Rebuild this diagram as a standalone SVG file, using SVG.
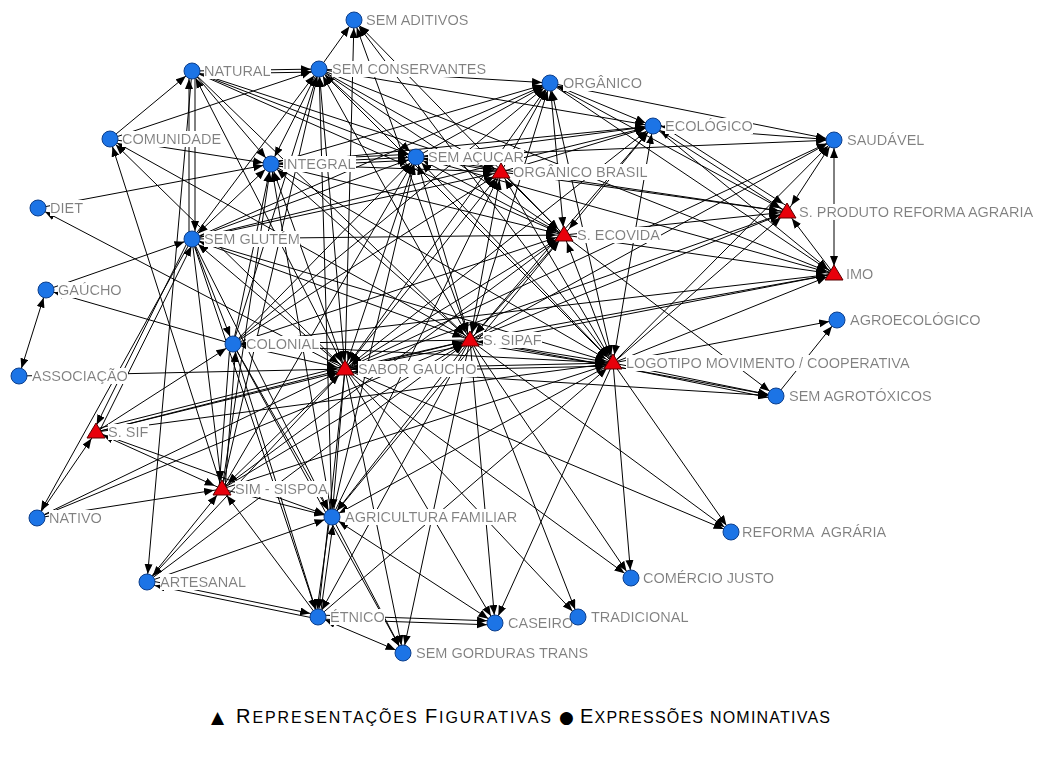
<svg xmlns="http://www.w3.org/2000/svg" xmlns:xlink="http://www.w3.org/1999/xlink" width="1051" height="757" viewBox="0 0 1051 757">
<style>
.edges line{stroke:#000;stroke-width:1;fill:none}
.e{marker-end:url(#ah)}
.b{marker-start:url(#ah);marker-end:url(#ah)}
.c{fill:#1c74e6;stroke:#0d3f8c;stroke-width:1}
.t{fill:#e8000b;stroke:#5a0000;stroke-width:1}
.lbl{font-family:"Liberation Sans",Arial,sans-serif;font-size:14.5px;fill:#808080;filter:url(#lbg);white-space:pre}
.leg{font-family:"Liberation Sans","DejaVu Sans",sans-serif;font-size:16px;fill:#000}
.cap{font-size:20px}
.sym{font-family:"DejaVu Sans",sans-serif;font-size:17px;fill:#000}
</style>
<defs>
<marker id="ah" markerUnits="userSpaceOnUse" markerWidth="20" markerHeight="10" viewBox="0 0 20 10" refX="18" refY="4" orient="auto-start-reverse">
<path d="M0,0 L10,4 L0,8 z" fill="#000"/>
</marker>
<filter id="lbg" x="0" y="0" width="1" height="1"><feFlood flood-color="#ffffff"/><feComposite in="SourceGraphic"/></filter>
<polygon id="tri" points="0,-9 9,6 -9,6" class="t"/>
</defs>
<rect width="1051" height="757" fill="#fff"/>
<g id="connectors" class="edges">
<line x1="319" y1="69" x2="354" y2="20" class="e"/>
<line x1="345" y1="369" x2="354" y2="20" class="e"/>
<line x1="470" y1="340" x2="354" y2="20" class="e"/>
<line x1="564" y1="235" x2="354" y2="20" class="e"/>
<line x1="613" y1="363" x2="354" y2="20" class="e"/>
<line x1="192" y1="71" x2="319" y2="69" class="e"/>
<line x1="192" y1="74" x2="319" y2="72" class="e"/>
<line x1="110" y1="139" x2="192" y2="71" class="e"/>
<line x1="189" y1="239" x2="189" y2="71" class="e"/>
<line x1="195" y1="71" x2="195" y2="239" class="e"/>
<line x1="192" y1="71" x2="271" y2="164" class="e"/>
<line x1="192" y1="71" x2="416" y2="157" class="e"/>
<line x1="192" y1="71" x2="501" y2="172" class="e"/>
<line x1="192" y1="71" x2="564" y2="235" class="e"/>
<line x1="192" y1="71" x2="470" y2="340" class="e"/>
<line x1="345" y1="369" x2="192" y2="71" class="b"/>
<line x1="192" y1="71" x2="147" y2="582" class="e"/>
<line x1="110" y1="139" x2="319" y2="69" class="e"/>
<line x1="110" y1="139" x2="271" y2="164" class="e"/>
<line x1="470" y1="340" x2="110" y2="139" class="e"/>
<line x1="345" y1="369" x2="110" y2="139" class="e"/>
<line x1="222" y1="489" x2="110" y2="139" class="e"/>
<line x1="319" y1="69" x2="271" y2="164" class="e"/>
<line x1="192" y1="239" x2="319" y2="69" class="e"/>
<line x1="233" y1="344" x2="319" y2="69" class="e"/>
<line x1="345" y1="369" x2="319" y2="69" class="b"/>
<line x1="470" y1="340" x2="319" y2="69" class="b"/>
<line x1="319" y1="69" x2="416" y2="157" class="e"/>
<line x1="319" y1="69" x2="501" y2="172" class="e"/>
<line x1="319" y1="69" x2="564" y2="235" class="e"/>
<line x1="613" y1="363" x2="319" y2="69" class="b"/>
<line x1="319" y1="69" x2="550" y2="83" class="e"/>
<line x1="319" y1="69" x2="653" y2="126" class="e"/>
<line x1="319" y1="69" x2="834" y2="274" class="e"/>
<line x1="222" y1="489" x2="319" y2="69" class="e"/>
<line x1="332" y1="517" x2="319" y2="69" class="e"/>
<line x1="416" y1="157" x2="550" y2="83" class="e"/>
<line x1="271" y1="164" x2="550" y2="83" class="e"/>
<line x1="501" y1="172" x2="550" y2="83" class="b"/>
<line x1="564" y1="235" x2="550" y2="83" class="b"/>
<line x1="470" y1="340" x2="550" y2="83" class="b"/>
<line x1="345" y1="369" x2="550" y2="83" class="b"/>
<line x1="613" y1="363" x2="550" y2="83" class="b"/>
<line x1="550" y1="83" x2="653" y2="126" class="b"/>
<line x1="550" y1="83" x2="787" y2="212" class="e"/>
<line x1="550" y1="83" x2="834" y2="274" class="e"/>
<line x1="192" y1="239" x2="550" y2="83" class="e"/>
<line x1="550" y1="83" x2="834" y2="140" class="e"/>
<line x1="233" y1="344" x2="550" y2="83" class="e"/>
<line x1="653" y1="126" x2="834" y2="140" class="b"/>
<line x1="653" y1="126" x2="787" y2="212" class="b"/>
<line x1="656" y1="122" x2="790" y2="208" class="e"/>
<line x1="653" y1="126" x2="834" y2="274" class="e"/>
<line x1="564" y1="235" x2="653" y2="126" class="b"/>
<line x1="470" y1="340" x2="653" y2="126" class="b"/>
<line x1="345" y1="369" x2="653" y2="126" class="b"/>
<line x1="613" y1="363" x2="653" y2="126" class="b"/>
<line x1="416" y1="157" x2="653" y2="126" class="e"/>
<line x1="271" y1="164" x2="653" y2="126" class="e"/>
<line x1="501" y1="172" x2="653" y2="126" class="e"/>
<line x1="192" y1="239" x2="653" y2="126" class="e"/>
<line x1="834" y1="140" x2="834" y2="274" class="b"/>
<line x1="834" y1="140" x2="787" y2="212" class="b"/>
<line x1="613" y1="363" x2="834" y2="140" class="e"/>
<line x1="470" y1="340" x2="834" y2="140" class="e"/>
<line x1="416" y1="157" x2="834" y2="140" class="e"/>
<line x1="345" y1="369" x2="834" y2="140" class="e"/>
<line x1="271" y1="161" x2="416" y2="154" class="e"/>
<line x1="271" y1="164" x2="416" y2="157" class="e"/>
<line x1="271" y1="167" x2="416" y2="160" class="e"/>
<line x1="38" y1="208" x2="271" y2="164" class="e"/>
<line x1="192" y1="239" x2="271" y2="164" class="b"/>
<line x1="233" y1="344" x2="271" y2="164" class="e"/>
<line x1="345" y1="369" x2="271" y2="164" class="b"/>
<line x1="470" y1="340" x2="271" y2="164" class="b"/>
<line x1="222" y1="489" x2="271" y2="164" class="e"/>
<line x1="271" y1="164" x2="501" y2="172" class="e"/>
<line x1="271" y1="164" x2="564" y2="235" class="e"/>
<line x1="271" y1="164" x2="613" y2="363" class="e"/>
<line x1="332" y1="517" x2="271" y2="164" class="e"/>
<line x1="192" y1="239" x2="416" y2="157" class="e"/>
<line x1="233" y1="344" x2="416" y2="157" class="e"/>
<line x1="345" y1="369" x2="416" y2="157" class="b"/>
<line x1="470" y1="340" x2="416" y2="157" class="b"/>
<line x1="416" y1="157" x2="501" y2="172" class="b"/>
<line x1="416" y1="157" x2="564" y2="235" class="b"/>
<line x1="613" y1="363" x2="416" y2="157" class="b"/>
<line x1="416" y1="157" x2="787" y2="212" class="e"/>
<line x1="416" y1="157" x2="834" y2="274" class="e"/>
<line x1="332" y1="517" x2="416" y2="157" class="e"/>
<line x1="222" y1="489" x2="416" y2="157" class="e"/>
<line x1="345" y1="369" x2="501" y2="172" class="b"/>
<line x1="470" y1="340" x2="501" y2="172" class="b"/>
<line x1="501" y1="172" x2="564" y2="235" class="e"/>
<line x1="613" y1="363" x2="501" y2="172" class="b"/>
<line x1="192" y1="239" x2="501" y2="172" class="e"/>
<line x1="233" y1="344" x2="501" y2="172" class="e"/>
<line x1="332" y1="517" x2="501" y2="172" class="e"/>
<line x1="501" y1="172" x2="787" y2="212" class="e"/>
<line x1="46" y1="290" x2="192" y2="239" class="e"/>
<line x1="345" y1="369" x2="192" y2="239" class="b"/>
<line x1="470" y1="340" x2="192" y2="239" class="b"/>
<line x1="192" y1="239" x2="233" y2="344" class="e"/>
<line x1="189" y1="239" x2="93" y2="432" class="e"/>
<line x1="99" y1="432" x2="195" y2="239" class="e"/>
<line x1="192" y1="239" x2="37" y2="518" class="e"/>
<line x1="192" y1="239" x2="222" y2="489" class="e"/>
<line x1="192" y1="239" x2="564" y2="235" class="e"/>
<line x1="192" y1="239" x2="613" y2="363" class="e"/>
<line x1="192" y1="239" x2="332" y2="517" class="e"/>
<line x1="192" y1="239" x2="318" y2="617" class="e"/>
<line x1="345" y1="369" x2="564" y2="235" class="b"/>
<line x1="470" y1="340" x2="564" y2="235" class="b"/>
<line x1="613" y1="363" x2="564" y2="235" class="b"/>
<line x1="564" y1="235" x2="787" y2="212" class="e"/>
<line x1="564" y1="235" x2="834" y2="274" class="e"/>
<line x1="564" y1="235" x2="776" y2="396" class="e"/>
<line x1="233" y1="344" x2="564" y2="235" class="e"/>
<line x1="332" y1="517" x2="564" y2="235" class="e"/>
<line x1="222" y1="489" x2="564" y2="235" class="e"/>
<line x1="345" y1="369" x2="787" y2="212" class="e"/>
<line x1="470" y1="340" x2="787" y2="212" class="e"/>
<line x1="613" y1="363" x2="787" y2="212" class="e"/>
<line x1="834" y1="274" x2="787" y2="212" class="e"/>
<line x1="345" y1="369" x2="834" y2="274" class="e"/>
<line x1="470" y1="340" x2="834" y2="274" class="e"/>
<line x1="613" y1="363" x2="834" y2="274" class="e"/>
<line x1="233" y1="344" x2="834" y2="274" class="e"/>
<line x1="233" y1="344" x2="46" y2="290" class="e"/>
<line x1="96" y1="432" x2="233" y2="344" class="e"/>
<line x1="345" y1="369" x2="233" y2="344" class="b"/>
<line x1="470" y1="340" x2="233" y2="344" class="e"/>
<line x1="230" y1="344" x2="219" y2="489" class="e"/>
<line x1="225" y1="489" x2="236" y2="344" class="e"/>
<line x1="233" y1="344" x2="332" y2="517" class="e"/>
<line x1="233" y1="344" x2="318" y2="617" class="e"/>
<line x1="233" y1="344" x2="403" y2="653" class="e"/>
<line x1="233" y1="344" x2="613" y2="363" class="e"/>
<line x1="470" y1="340" x2="345" y2="369" class="b"/>
<line x1="613" y1="363" x2="345" y2="369" class="b"/>
<line x1="613" y1="366" x2="345" y2="372" class="e"/>
<line x1="19" y1="376" x2="345" y2="369" class="e"/>
<line x1="96" y1="432" x2="345" y2="369" class="e"/>
<line x1="96" y1="429" x2="345" y2="366" class="e"/>
<line x1="37" y1="518" x2="345" y2="369" class="e"/>
<line x1="222" y1="489" x2="345" y2="369" class="b"/>
<line x1="345" y1="369" x2="332" y2="517" class="e"/>
<line x1="345" y1="369" x2="147" y2="582" class="e"/>
<line x1="345" y1="369" x2="318" y2="617" class="e"/>
<line x1="345" y1="369" x2="403" y2="653" class="e"/>
<line x1="345" y1="369" x2="495" y2="623" class="e"/>
<line x1="345" y1="369" x2="578" y2="617" class="e"/>
<line x1="345" y1="369" x2="631" y2="578" class="e"/>
<line x1="345" y1="369" x2="731" y2="532" class="e"/>
<line x1="345" y1="369" x2="776" y2="396" class="e"/>
<line x1="345" y1="369" x2="38" y2="208" class="e"/>
<line x1="470" y1="340" x2="613" y2="363" class="b"/>
<line x1="470" y1="343" x2="613" y2="366" class="e"/>
<line x1="96" y1="432" x2="470" y2="340" class="e"/>
<line x1="37" y1="518" x2="470" y2="340" class="e"/>
<line x1="222" y1="489" x2="470" y2="340" class="e"/>
<line x1="470" y1="340" x2="332" y2="517" class="e"/>
<line x1="470" y1="340" x2="318" y2="617" class="e"/>
<line x1="470" y1="340" x2="403" y2="653" class="e"/>
<line x1="470" y1="340" x2="495" y2="623" class="e"/>
<line x1="470" y1="340" x2="578" y2="617" class="e"/>
<line x1="470" y1="340" x2="631" y2="578" class="e"/>
<line x1="470" y1="340" x2="731" y2="532" class="e"/>
<line x1="470" y1="340" x2="776" y2="396" class="e"/>
<line x1="147" y1="582" x2="470" y2="340" class="e"/>
<line x1="613" y1="363" x2="776" y2="396" class="e"/>
<line x1="613" y1="366" x2="776" y2="399" class="e"/>
<line x1="613" y1="363" x2="837" y2="320" class="e"/>
<line x1="613" y1="363" x2="731" y2="532" class="e"/>
<line x1="613" y1="363" x2="631" y2="578" class="e"/>
<line x1="613" y1="363" x2="332" y2="517" class="e"/>
<line x1="613" y1="363" x2="495" y2="623" class="e"/>
<line x1="96" y1="432" x2="613" y2="363" class="e"/>
<line x1="222" y1="489" x2="613" y2="363" class="e"/>
<line x1="318" y1="617" x2="613" y2="363" class="e"/>
<line x1="46" y1="290" x2="19" y2="376" class="b"/>
<line x1="37" y1="518" x2="96" y2="432" class="e"/>
<line x1="37" y1="518" x2="222" y2="489" class="e"/>
<line x1="96" y1="432" x2="222" y2="489" class="b"/>
<line x1="96" y1="432" x2="332" y2="517" class="e"/>
<line x1="147" y1="582" x2="332" y2="517" class="e"/>
<line x1="147" y1="582" x2="222" y2="489" class="e"/>
<line x1="147" y1="580" x2="318" y2="615" class="e"/>
<line x1="318" y1="619" x2="147" y2="584" class="e"/>
<line x1="330" y1="517" x2="316" y2="617" class="e"/>
<line x1="320" y1="617" x2="334" y2="517" class="e"/>
<line x1="332" y1="517" x2="403" y2="653" class="e"/>
<line x1="332" y1="517" x2="495" y2="623" class="b"/>
<line x1="318" y1="615" x2="495" y2="621" class="e"/>
<line x1="318" y1="619" x2="495" y2="625" class="e"/>
<line x1="318" y1="617" x2="403" y2="653" class="b"/>
<line x1="222" y1="489" x2="332" y2="517" class="e"/>
<line x1="318" y1="617" x2="222" y2="489" class="e"/>
<line x1="776" y1="396" x2="837" y2="320" class="e"/>
</g>
<g id="n-sem-aditivos"><circle cx="354" cy="20" r="8" class="c"/><text x="366" y="25" class="lbl">SEM ADITIVOS</text></g>
<g id="n-natural"><circle cx="192" cy="71" r="8" class="c"/><text x="204" y="76" class="lbl">NATURAL</text></g>
<g id="n-sem-conservantes"><circle cx="319" cy="69" r="8" class="c"/><text x="332" y="74" class="lbl">SEM CONSERVANTES</text></g>
<g id="n-organico"><circle cx="550" cy="83" r="8" class="c"/><text x="563" y="88" class="lbl">ORGÂNICO</text></g>
<g id="n-ecologico"><circle cx="653" cy="126" r="8" class="c"/><text x="665" y="131" class="lbl">ECOLÓGICO</text></g>
<g id="n-saudavel"><circle cx="834" cy="140" r="8" class="c"/><text x="847" y="145" class="lbl">SAUDÁVEL</text></g>
<g id="n-comunidade"><circle cx="110" cy="139" r="8" class="c"/><text x="122" y="144" class="lbl">COMUNIDADE</text></g>
<g id="n-integral"><circle cx="271" cy="164" r="8" class="c"/><text x="283" y="169" class="lbl">INTEGRAL</text></g>
<g id="n-sem-acucar"><circle cx="416" cy="157" r="8" class="c"/><text x="428" y="162" class="lbl">SEM AÇUCAR</text></g>
<g id="n-organico-brasil"><use xlink:href="#tri" x="501" y="172"/><text x="513" y="177" class="lbl">ORGÂNICO BRASIL</text></g>
<g id="n-diet"><circle cx="38" cy="208" r="8" class="c"/><text x="50" y="213" class="lbl">DIET</text></g>
<g id="n-s-produto"><use xlink:href="#tri" x="787" y="212"/><text x="799" y="217" class="lbl">S. PRODUTO REFORMA AGRARIA</text></g>
<g id="n-sem-glutem"><circle cx="192" cy="239" r="8" class="c"/><text x="204" y="244" class="lbl">SEM GLUTÉM</text></g>
<g id="n-s-ecovida"><use xlink:href="#tri" x="564" y="235"/><text x="577" y="240" class="lbl">S. ECOVIDA</text></g>
<g id="n-imo"><use xlink:href="#tri" x="834" y="274"/><text x="846" y="279" class="lbl">IMO</text></g>
<g id="n-gaucho"><circle cx="46" cy="290" r="8" class="c"/><text x="58" y="295" class="lbl">GAÚCHO</text></g>
<g id="n-agroecologico"><circle cx="837" cy="320" r="8" class="c"/><text x="850" y="325" class="lbl">AGROECOLÓGICO</text></g>
<g id="n-s-sipaf"><use xlink:href="#tri" x="470" y="340"/><text x="483" y="345" class="lbl">S. SIPAF</text></g>
<g id="n-colonial"><circle cx="233" cy="344" r="8" class="c"/><text x="246" y="349" class="lbl">COLONIAL</text></g>
<g id="n-sabor-gaucho"><use xlink:href="#tri" x="345" y="369"/><text x="358" y="374" class="lbl">SABOR GAUCHO</text></g>
<g id="n-logotipo"><use xlink:href="#tri" x="613" y="363"/><text x="626" y="368" class="lbl">LOGOTIPO MOVIMENTO / COOPERATIVA</text></g>
<g id="n-associacao"><circle cx="19" cy="376" r="8" class="c"/><text x="32" y="381" class="lbl">ASSOCIAÇÃO</text></g>
<g id="n-sem-agrotoxicos"><circle cx="776" cy="396" r="8" class="c"/><text x="789" y="401" class="lbl">SEM AGROTÓXICOS</text></g>
<g id="n-s-sif"><use xlink:href="#tri" x="96" y="432"/><text x="108" y="437" class="lbl">S. SIF</text></g>
<g id="n-sim-sispoa"><use xlink:href="#tri" x="222" y="489"/><text x="235" y="494" class="lbl">SIM - SISPOA</text></g>
<g id="n-nativo"><circle cx="37" cy="518" r="8" class="c"/><text x="49" y="523" class="lbl">NATIVO</text></g>
<g id="n-agricultura-familiar"><circle cx="332" cy="517" r="8" class="c"/><text x="345" y="522" class="lbl">AGRICULTURA FAMILIAR</text></g>
<g id="n-reforma-agraria"><circle cx="731" cy="532" r="8" class="c"/><text x="742" y="537" class="lbl">REFORMA  AGRÁRIA</text></g>
<g id="n-artesanal"><circle cx="147" cy="582" r="8" class="c"/><text x="160" y="587" class="lbl">ARTESANAL</text></g>
<g id="n-comercio-justo"><circle cx="631" cy="578" r="8" class="c"/><text x="643" y="583" class="lbl">COMÉRCIO JUSTO</text></g>
<g id="n-etnico"><circle cx="318" cy="617" r="8" class="c"/><text x="330" y="622" class="lbl">ÉTNICO</text></g>
<g id="n-caseiro"><circle cx="495" cy="623" r="8" class="c"/><text x="508" y="628" class="lbl">CASEIRO</text></g>
<g id="n-tradicional"><circle cx="578" cy="617" r="8" class="c"/><text x="591" y="622" class="lbl">TRADICIONAL</text></g>
<g id="n-sem-gorduras-trans"><circle cx="403" cy="653" r="8" class="c"/><text x="416" y="658" class="lbl">SEM GORDURAS TRANS</text></g>
<g id="legend">
<text x="211" y="723" class="sym">▲</text>
<text x="236" y="723" class="leg" textLength="315" lengthAdjust="spacing"><tspan class="cap">R</tspan>EPRESENTAÇÕES <tspan class="cap">F</tspan>IGURATIVAS</text>
<text x="559" y="723" class="sym">●</text>
<text x="580" y="723" class="leg" textLength="250" lengthAdjust="spacing"><tspan class="cap">E</tspan>XPRESSÕES NOMINATIVAS</text>
</g>
</svg>
